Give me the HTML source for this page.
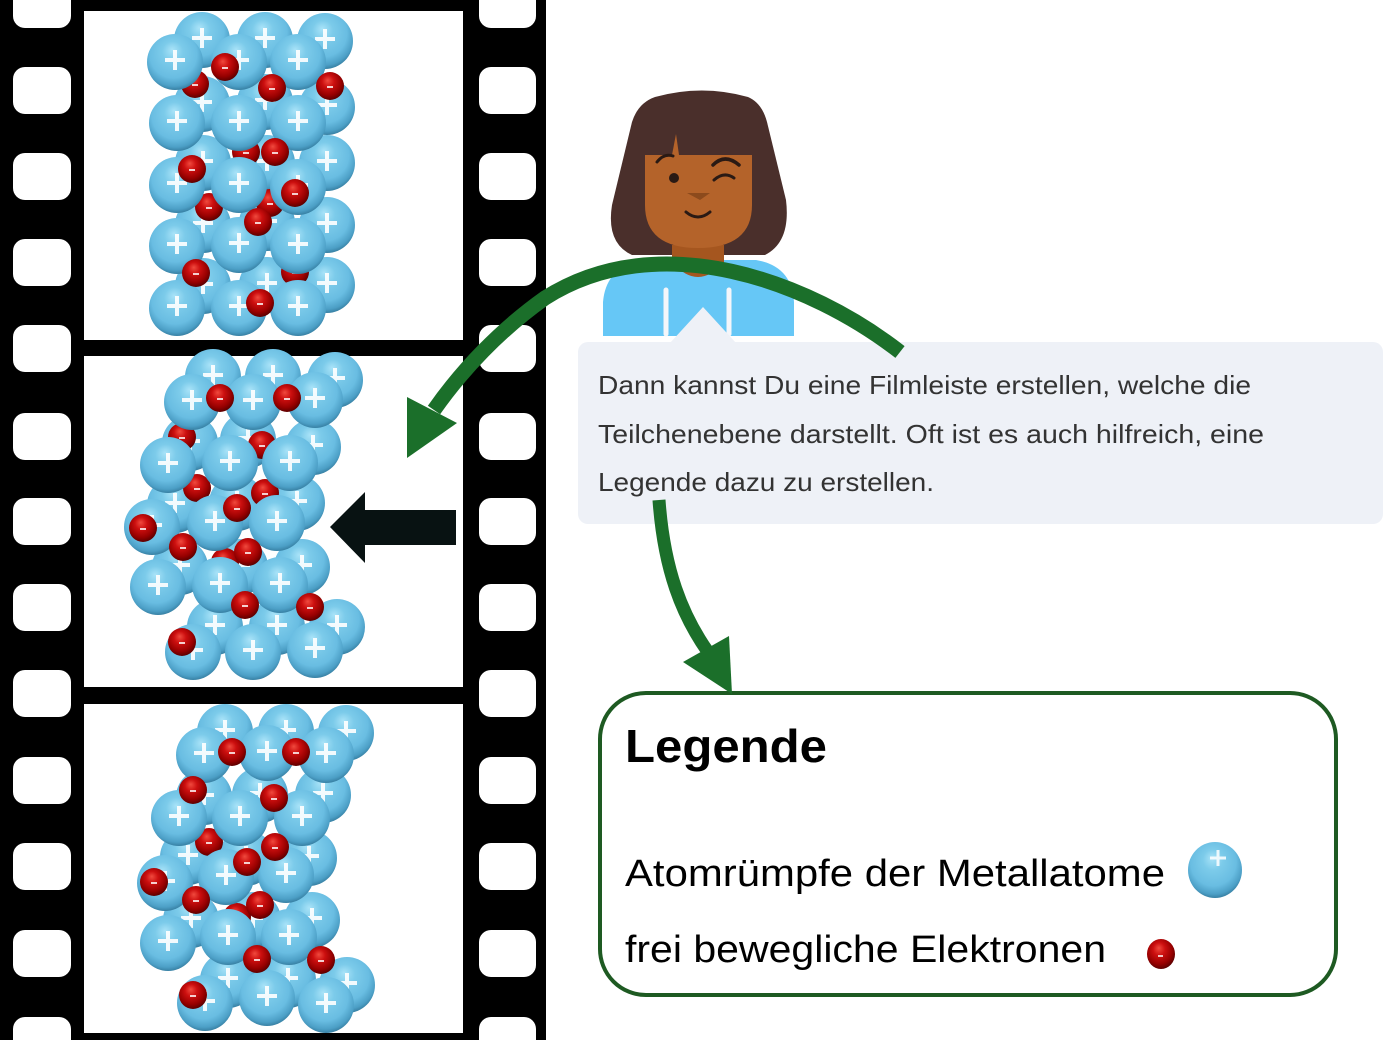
<!DOCTYPE html>
<html>
<head>
<meta charset="utf-8">
<style>
html,body{margin:0;padding:0;background:#fff;}
svg{display:block;}
</style>
</head>
<body>
<svg width="1387" height="1040" viewBox="0 0 1387 1040" xmlns="http://www.w3.org/2000/svg" xmlns:xlink="http://www.w3.org/1999/xlink">
<defs>
  <radialGradient id="gb" cx="0.48" cy="0.4" r="0.62" fx="0.45" fy="0.28">
    <stop offset="0" stop-color="#a9e3f8"/>
    <stop offset="0.3" stop-color="#7ccbea"/>
    <stop offset="0.68" stop-color="#69bde2"/>
    <stop offset="0.88" stop-color="#4c9fc6"/>
    <stop offset="1" stop-color="#32789a"/>
  </radialGradient>
  <radialGradient id="gr" cx="0.45" cy="0.4" r="0.62" fx="0.42" fy="0.3">
    <stop offset="0" stop-color="#f04a3e"/>
    <stop offset="0.35" stop-color="#cc0f0f"/>
    <stop offset="0.75" stop-color="#960000"/>
    <stop offset="1" stop-color="#560000"/>
  </radialGradient>
  <g id="A"><circle r="28" fill="url(#gb)"/><path d="M-10,-2H10M0,-12V8" stroke="#ffffff" stroke-width="4" stroke-opacity="0.9"/></g>
  <g id="E"><circle r="14" fill="url(#gr)"/><path d="M-3,1H3" stroke="#ffffff" stroke-width="1.6"/></g>
</defs>

<!-- film strip -->
<rect x="0" y="0" width="546" height="1040" fill="#000"/>
<g fill="#fff">
  <rect x="13" y="-19" width="58" height="47" rx="12"/>
  <rect x="13" y="67" width="58" height="47" rx="12"/>
  <rect x="13" y="153" width="58" height="47" rx="12"/>
  <rect x="13" y="239" width="58" height="47" rx="12"/>
  <rect x="13" y="325" width="58" height="47" rx="12"/>
  <rect x="13" y="413" width="58" height="47" rx="12"/>
  <rect x="13" y="498" width="58" height="47" rx="12"/>
  <rect x="13" y="584" width="58" height="47" rx="12"/>
  <rect x="13" y="670" width="58" height="47" rx="12"/>
  <rect x="13" y="757" width="58" height="47" rx="12"/>
  <rect x="13" y="843" width="58" height="47" rx="12"/>
  <rect x="13" y="930" width="58" height="47" rx="12"/>
  <rect x="13" y="1017" width="58" height="47" rx="12"/>
  <rect x="479" y="-19" width="57" height="47" rx="12"/>
  <rect x="479" y="67" width="57" height="47" rx="12"/>
  <rect x="479" y="153" width="57" height="47" rx="12"/>
  <rect x="479" y="239" width="57" height="47" rx="12"/>
  <rect x="479" y="325" width="57" height="47" rx="12"/>
  <rect x="479" y="413" width="57" height="47" rx="12"/>
  <rect x="479" y="498" width="57" height="47" rx="12"/>
  <rect x="479" y="584" width="57" height="47" rx="12"/>
  <rect x="479" y="670" width="57" height="47" rx="12"/>
  <rect x="479" y="757" width="57" height="47" rx="12"/>
  <rect x="479" y="843" width="57" height="47" rx="12"/>
  <rect x="479" y="930" width="57" height="47" rx="12"/>
  <rect x="479" y="1017" width="57" height="47" rx="12"/>
  <rect x="84" y="11" width="379" height="329"/>
  <rect x="84" y="356" width="379" height="331"/>
  <rect x="84" y="704" width="379" height="329"/>
</g>

<!-- frame 1 -->
<g>
  <use href="#A" x="202" y="40"/><use href="#A" x="265" y="40"/><use href="#A" x="325" y="41"/>
  <use href="#A" x="202" y="104"/><use href="#A" x="265" y="102"/><use href="#A" x="327" y="107"/>
  <use href="#A" x="203" y="163"/><use href="#A" x="267" y="163"/><use href="#A" x="327" y="163"/>
  <use href="#A" x="203" y="225"/><use href="#A" x="267" y="223"/><use href="#A" x="327" y="225"/>
  <use href="#A" x="203" y="286"/><use href="#A" x="267" y="285"/><use href="#A" x="327" y="285"/>
  <use href="#E" x="195" y="84"/><use href="#E" x="246" y="152"/><use href="#E" x="209" y="207"/>
  <use href="#E" x="270" y="203"/><use href="#E" x="295" y="272"/>
  <use href="#A" x="175" y="62"/><use href="#A" x="239" y="62"/><use href="#A" x="298" y="62"/>
  <use href="#A" x="177" y="123"/><use href="#A" x="239" y="123"/><use href="#A" x="298" y="123"/>
  <use href="#A" x="177" y="185"/><use href="#A" x="239" y="185"/><use href="#A" x="298" y="187"/>
  <use href="#A" x="177" y="246"/><use href="#A" x="239" y="245"/><use href="#A" x="298" y="246"/>
  <use href="#A" x="177" y="308"/><use href="#A" x="239" y="308"/><use href="#A" x="298" y="308"/>
  <use href="#E" x="225" y="67"/><use href="#E" x="272" y="88"/><use href="#E" x="330" y="86"/>
  <use href="#E" x="275" y="152"/><use href="#E" x="192" y="169"/><use href="#E" x="295" y="193"/>
  <use href="#E" x="258" y="222"/><use href="#E" x="196" y="273"/><use href="#E" x="260" y="303"/>
</g>

<!-- frame 2 -->
<g>
  <use href="#A" x="213" y="377"/><use href="#A" x="273" y="377"/><use href="#A" x="335" y="380"/>
  <use href="#A" x="190" y="443"/><use href="#A" x="248" y="440"/><use href="#A" x="313" y="447"/>
  <use href="#A" x="175" y="505"/><use href="#A" x="237" y="503"/><use href="#A" x="297" y="503"/>
  <use href="#A" x="180" y="567"/><use href="#A" x="240" y="567"/><use href="#A" x="302" y="567"/>
  <use href="#A" x="215" y="627"/><use href="#A" x="277" y="627"/><use href="#A" x="337" y="627"/>
  <use href="#E" x="182" y="437"/><use href="#E" x="262" y="445"/><use href="#E" x="197" y="488"/>
  <use href="#E" x="265" y="493"/><use href="#E" x="225" y="562"/>
  <use href="#A" x="192" y="402"/><use href="#A" x="253" y="402"/><use href="#A" x="315" y="400"/>
  <use href="#A" x="168" y="465"/><use href="#A" x="230" y="463"/><use href="#A" x="290" y="463"/>
  <use href="#A" x="152" y="527"/><use href="#A" x="215" y="523"/><use href="#A" x="277" y="523"/>
  <use href="#A" x="158" y="587"/><use href="#A" x="220" y="585"/><use href="#A" x="280" y="585"/>
  <use href="#A" x="193" y="652"/><use href="#A" x="253" y="652"/><use href="#A" x="315" y="650"/>
  <use href="#E" x="220" y="398"/><use href="#E" x="287" y="398"/><use href="#E" x="237" y="508"/>
  <use href="#E" x="143" y="528"/><use href="#E" x="183" y="547"/><use href="#E" x="248" y="552"/>
  <use href="#E" x="245" y="605"/><use href="#E" x="310" y="607"/><use href="#E" x="182" y="642"/>
  <!-- black arrow -->
  <path d="M330,527 L365,492 L365,510 L456,510 L456,545 L365,545 L365,563 Z" fill="#081212"/>
</g>

<!-- frame 3 -->
<g>
  <use href="#A" x="225" y="732"/><use href="#A" x="286" y="732"/><use href="#A" x="346" y="733"/>
  <use href="#A" x="204" y="797"/><use href="#A" x="260" y="795"/><use href="#A" x="323" y="795"/>
  <use href="#A" x="188" y="857"/><use href="#A" x="246" y="858"/><use href="#A" x="309" y="858"/>
  <use href="#A" x="191" y="920"/><use href="#A" x="253" y="920"/><use href="#A" x="312" y="920"/>
  <use href="#A" x="228" y="980"/><use href="#A" x="288" y="980"/><use href="#A" x="347" y="985"/>
  <use href="#E" x="209" y="842"/><use href="#E" x="237" y="917"/>
  <use href="#A" x="204" y="755"/><use href="#A" x="267" y="753"/><use href="#A" x="326" y="755"/>
  <use href="#A" x="179" y="818"/><use href="#A" x="240" y="818"/><use href="#A" x="302" y="818"/>
  <use href="#A" x="165" y="883"/><use href="#A" x="226" y="877"/><use href="#A" x="286" y="875"/>
  <use href="#A" x="168" y="943"/><use href="#A" x="228" y="937"/><use href="#A" x="289" y="937"/>
  <use href="#A" x="205" y="1003"/><use href="#A" x="267" y="998"/><use href="#A" x="326" y="1005"/>
  <use href="#E" x="232" y="752"/><use href="#E" x="296" y="752"/><use href="#E" x="193" y="790"/>
  <use href="#E" x="274" y="798"/><use href="#E" x="275" y="847"/><use href="#E" x="247" y="862"/>
  <use href="#E" x="154" y="882"/><use href="#E" x="196" y="900"/><use href="#E" x="260" y="905"/>
  <use href="#E" x="257" y="959"/><use href="#E" x="321" y="960"/><use href="#E" x="193" y="995"/>
</g>

<!-- avatar -->
<g>
  <path d="M655,97 Q702,84 748,97 Q762,103 767,122 L786,200 Q791,242 765,255 L632,255 Q606,243 612,205 L632,122 Q638,103 655,97 Z" fill="#4a2f2b"/>
  <path d="M603,336 L603,302 Q606,266 644,260 L756,260 Q792,266 794,302 L794,336 Z" fill="#66c7f6"/>
  <path d="M672,245 L672,262 Q698,292 724,262 L724,245 Z" fill="#a5561f"/>
  <path d="M645,155 L752,155 L752,205 Q752,248 698,248 Q645,248 645,205 Z" fill="#b4632a"/>
  <path d="M672,155 L676,134 L679,155 Z" fill="#b4632a"/>
  <circle cx="674" cy="178" r="5" fill="#2a1a14"/>
  <path d="M657,162 Q664,153 673,156" stroke="#2a1a14" stroke-width="3" fill="none" stroke-linecap="round"/>
  <path d="M713,165 Q725,153 739,165" stroke="#2a1a14" stroke-width="3.5" fill="none" stroke-linecap="round"/>
  <path d="M714,180 Q724,171 734,178" stroke="#2a1a14" stroke-width="3" fill="none" stroke-linecap="round"/>
  <path d="M687,193 L710,193 L700,200 Z" fill="#8c4a1c"/>
  <path d="M686,212 Q698,222 710,212" stroke="#2a1a14" stroke-width="3" fill="none" stroke-linecap="round"/>
  <path d="M666,290 V334 M729,290 V334" stroke="#f4f6fa" stroke-width="5" stroke-linecap="round"/>
</g>

<!-- speech bubble -->
<rect x="578" y="342" width="805" height="182" rx="10" fill="#eef1f7"/>
<path d="M670,343 L703,307 L736,343 Z" fill="#eef1f7"/>
<g font-family="'Liberation Sans', sans-serif" font-size="26" fill="#333333">
  <text x="598" y="394" textLength="653" lengthAdjust="spacingAndGlyphs">Dann kannst Du eine Filmleiste erstellen, welche die</text>
  <text x="598" y="443" textLength="666" lengthAdjust="spacingAndGlyphs">Teilchenebene darstellt. Oft ist es auch hilfreich, eine</text>
  <text x="598" y="491" textLength="336" lengthAdjust="spacingAndGlyphs">Legende dazu zu erstellen.</text>
</g>

<!-- legend -->
<rect x="600" y="693" width="736" height="302" rx="46" fill="#fff" stroke="#1e5a22" stroke-width="4"/>
<g font-family="'Liberation Sans', sans-serif" fill="#000">
  <text x="625" y="762" font-size="46" font-weight="bold" textLength="202" lengthAdjust="spacingAndGlyphs">Legende</text>
  <text x="625" y="886" font-size="38" textLength="540" lengthAdjust="spacingAndGlyphs">Atomrümpfe der Metallatome</text>
  <text x="625" y="962" font-size="38" textLength="481" lengthAdjust="spacingAndGlyphs">frei bewegliche Elektronen</text>
</g>
<ellipse cx="1215" cy="870" rx="27" ry="28" fill="url(#gb)"/>
<path d="M1210,858H1226M1218,850V866" stroke="#fff" stroke-width="3" stroke-opacity="0.85"/>
<ellipse cx="1161" cy="954" rx="14" ry="15" fill="url(#gr)"/>
<path d="M1158,956H1163" stroke="#fff" stroke-width="1.5"/>

<!-- green arrows -->
<g fill="none" stroke="#1b6f2a" stroke-width="15">
  <path d="M900,352 C810,282 660,225 545,298 C500,330 462,370 434,410"/>
</g>
<path d="M407,458 L407,397 L457,423 Z" fill="#1b6f2a"/>
<g fill="none" stroke="#1b6f2a" stroke-width="13">
  <path d="M659,500 C664,570 682,615 708,652"/>
</g>
<path d="M732,694 L683,662 L729,636 Z" fill="#1b6f2a"/>
</svg>
</body>
</html>
